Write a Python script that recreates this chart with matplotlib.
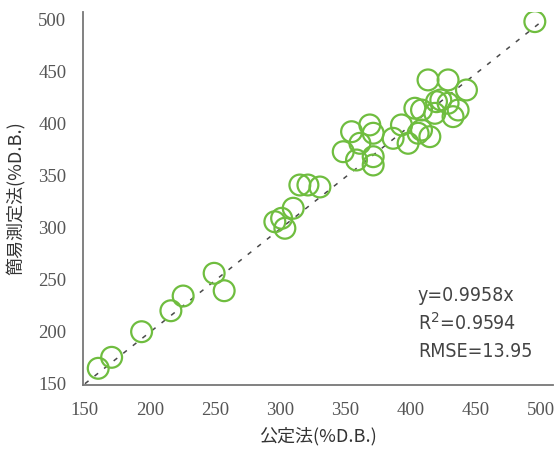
import matplotlib
matplotlib.use("Agg")
import matplotlib.pyplot as plt
import numpy as np

# 公定法 (x) と 簡易測定法 (y), %D.B.
official = [160.2, 170.5, 193.5, 216.0, 225.4, 249.2, 256.9,
            295.8, 301.0, 303.5, 309.9, 315.0, 321.2, 330.4,
            348.3, 354.7, 358.5, 361.1, 368.7, 371.3, 371.3, 371.3,
            386.6, 393.0, 398.1, 405.8, 408.4, 414.8, 403.3, 408.4,
            418.6, 419.9, 423.2, 413.4, 428.8, 432.6, 436.5, 442.9,
            428.8, 495.4]
simple = [164.2, 174.8, 199.5, 219.7, 233.9, 255.8, 239.0,
          305.5, 308.8, 299.2, 318.5, 340.9, 340.9, 339.0,
          373.0, 392.3, 365.0, 381.1, 398.8, 390.8, 368.2, 360.2,
          385.9, 398.8, 381.1, 390.8, 393.9, 387.5, 414.9, 413.2,
          410.0, 421.2, 422.9, 442.2, 442.2, 406.8, 413.2, 432.5,
          419.7, 498.4]
slope = 0.9958
ticks = [150, 200, 250, 300, 350, 400, 450, 500]
stats = ["y=0.9958x", "R$^2$=0.9594", "RMSE=13.95"]

fig = plt.figure(figsize=(5.58, 4.5), dpi=100)
ax = fig.add_axes([0.1487, 0.1444, 0.842, 0.829])

# regression line
xs = np.array([150, 500])
ax.plot(xs, slope * xs, linestyle=(0, (3, 5)), color='#4a4a4a', lw=1.1,
        zorder=1)

# measured points
ax.scatter(official, simple, s=225, facecolors='none', edgecolors='#6fbd3f',
           linewidths=1.6, zorder=2)

# layout
ax.set_xlim(148.5, 509.2)
ax.set_ylim(148.1, 507.7)
ax.set_xticks(ticks)
ax.set_yticks(ticks)
ax.tick_params(length=0, pad=12, labelcolor='#555555', labelsize=13.5)
for lab in ax.get_xticklabels() + ax.get_yticklabels():
    lab.set_family('Liberation Serif')
for side in ['top', 'right']:
    ax.spines[side].set_visible(False)
for side in ['left', 'bottom']:
    ax.spines[side].set_color('#777777')
    ax.spines[side].set_linewidth(1.3)

ax.set_xlabel("公定法(%D.B.)", family=['Noto Sans CJK JP', 'DejaVu Sans'],
              fontsize=13, color='#333333', labelpad=6)
ax.set_ylabel("簡易測定法(%D.B.)", family=['Noto Sans CJK JP', 'DejaVu Sans'],
              fontsize=13, color='#333333', labelpad=9)

# statistics
for i, t in enumerate(stats):
    ax.text(0.713, 0.241 - i * 0.075, t, transform=ax.transAxes,
            family='DejaVu Sans', fontstretch='condensed', fontsize=14,
            color='#444444', va='center', ha='left')

plt.savefig("out.png", dpi=100)
